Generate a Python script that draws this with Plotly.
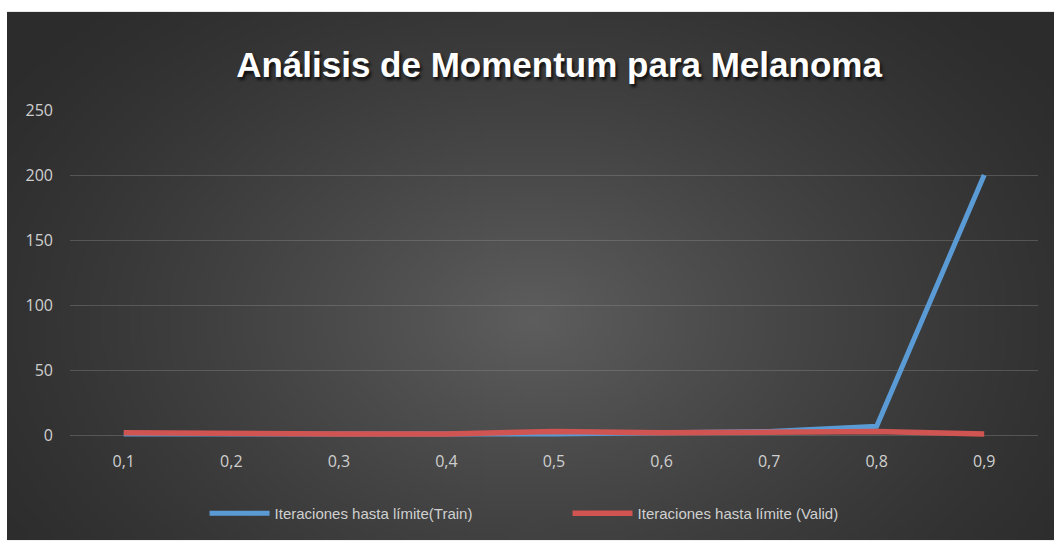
import base64
import struct
import zlib

import numpy as np
import plotly.graph_objects as go

# valores
momentum = [0.1, 0.2, 0.3, 0.4, 0.5, 0.6, 0.7, 0.8, 0.9]
tick_labels = ["0,1", "0,2", "0,3", "0,4", "0,5", "0,6", "0,7", "0,8", "0,9"]
train_iters = [1, 1, 1, 1, 1, 2, 3, 7, 200]
valid_iters = [2, 1, 1, 1, 3, 2, 2, 3, 1]
y_ticks = [0, 50, 100, 150, 200, 250]

W, H = 1054, 542
ML, MR, MT, MB = 70, 16, 110, 101
PW, PH = W - ML - MR, H - MT - MB
BG_LEFT, BG_TOP = 7, 11  # borde blanco del recorte original


def gradient_png(w=260, h=132):
    # fondo gris oscuro con degradado radial (estilo Excel)
    yy, xx = np.mgrid[0:h, 0:w]
    cx, cy = 0.5 * w, 0.58 * h
    r = np.sqrt(((xx - cx) / (0.62 * w)) ** 2 + ((yy - cy) / (0.85 * h)) ** 2)
    v = 44 + 50 * np.clip(1 - r, 0, 1) ** 1.3
    img = v.astype(np.uint8)
    raw = b"".join(b"\x00" + row.tobytes() for row in img)

    def chunk(tag, data):
        c = struct.pack(">I", len(data)) + tag + data
        return c + struct.pack(">I", zlib.crc32(tag + data) & 0xFFFFFFFF)

    png = (b"\x89PNG\r\n\x1a\n"
           + chunk(b"IHDR", struct.pack(">IIBBBBB", w, h, 8, 0, 0, 0, 0))
           + chunk(b"IDAT", zlib.compress(raw, 9))
           + chunk(b"IEND", b""))
    return "data:image/png;base64," + base64.b64encode(png).decode()


fig = go.Figure()
fig.add_trace(go.Scatter(
    x=momentum, y=train_iters, mode="lines",
    name="Iteraciones hasta límite(Train)",
    line=dict(color="#5b9bd5", width=5),
))
fig.add_trace(go.Scatter(
    x=momentum, y=valid_iters, mode="lines",
    name="Iteraciones hasta límite (Valid)",
    line=dict(color="#d05552", width=5.5),
))

fig.add_layout_image(
    source=gradient_png(),
    xref="paper", yref="paper",
    x=(BG_LEFT - ML) / PW, y=(PH + MT - BG_TOP) / PH,
    sizex=(W - BG_LEFT + 2) / PW, sizey=(H - BG_TOP + 2) / PH,
    xanchor="left", yanchor="top",
    sizing="stretch", layer="below",
)

fig.update_layout(
    width=W, height=H,
    margin=dict(l=ML, r=MR, t=MT, b=MB, pad=0),
    paper_bgcolor="white",
    plot_bgcolor="rgba(0,0,0,0)",
    title=dict(
        text="Análisis de Momentum para Melanoma",
        x=559 / W, xanchor="center",
        y=1 - 65 / H, yanchor="middle",
        font=dict(family="Liberation Sans, sans-serif",
                  size=35, color="white", weight="bold",
                  shadow="2px 3px 3px #111111"),
    ),
    font=dict(family="Open Sans, sans-serif", size=14, color="#cfcfcf"),
    showlegend=True,
    legend=dict(
        orientation="h", x=0.514, xanchor="center",
        y=-0.23, yanchor="middle",
        bgcolor="rgba(0,0,0,0)",
        itemwidth=60, entrywidth=288,
        font=dict(family="Liberation Sans, sans-serif", size=15, color="#d0d0d0"),
    ),
    xaxis=dict(
        range=[0.05, 0.95],
        tickvals=momentum, ticktext=tick_labels,
        showgrid=False, zeroline=False, showline=False,
        ticks="", ticklabelstandoff=12,
        tickfont=dict(size=16),
    ),
    yaxis=dict(
        range=[-2, 250],
        tickvals=y_ticks,
        showgrid=True, gridcolor="rgba(150,150,150,0.35)", gridwidth=1,
        zeroline=True, zerolinecolor="rgba(150,150,150,0.35)", zerolinewidth=1,
        showline=False, ticks="", ticklabelstandoff=16,
        tickfont=dict(size=16),
    ),
)

fig.write_html("out.html",
               config={"displayModeBar": False},
               post_script="document.body.style.margin='0';"
                           "document.body.style.overflow='hidden';")
